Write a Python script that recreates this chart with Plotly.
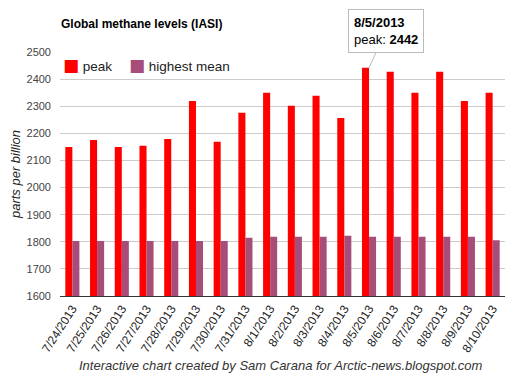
import plotly.graph_objects as go

dates = ["7/24/2013", "7/25/2013", "7/26/2013", "7/27/2013", "7/28/2013", "7/29/2013",
         "7/30/2013", "7/31/2013", "8/1/2013", "8/2/2013", "8/3/2013", "8/4/2013",
         "8/5/2013", "8/6/2013", "8/7/2013", "8/8/2013", "8/9/2013", "8/10/2013"]
peak = [2150, 2175, 2150, 2154, 2179, 2319, 2169, 2276, 2350, 2302, 2339, 2257,
        2442, 2427, 2350, 2427, 2319, 2350]
highest_mean = [1803, 1803, 1803, 1803, 1803, 1803, 1803, 1815, 1819, 1819, 1819, 1822,
                1819, 1819, 1819, 1819, 1819, 1806]
y_ticks = [1600, 1700, 1800, 1900, 2000, 2100, 2200, 2300, 2400, 2500]
series_names = ["peak", "highest mean"]
series_colors = ["#ff0000", "#a64d79"]

FONT = "Liberation Sans, Arial, sans-serif"
OFF = 8  # page body margin
W, H = 526, 380
# target plot area in screen pixels: x 60..505, y 52..296
L, T = 60 - OFF, 52 - OFF
R, B = W - (505 - OFF), H - (296 - OFF)
PW, PH = W - L - R, H - T - B

fig = go.Figure()
fig.add_trace(go.Bar(x=dates, y=peak, name=series_names[0], marker_color=series_colors[0],
                     marker_line_width=0))
fig.add_trace(go.Bar(x=dates, y=highest_mean, name=series_names[1], marker_color=series_colors[1],
                     marker_line_width=0))

fig.update_layout(
    width=W, height=H,
    margin=dict(l=L, r=R, t=T, b=B, autoexpand=False),
    paper_bgcolor="white", plot_bgcolor="white",
    font=dict(family=FONT, color="#222"),
    barmode="group", bargap=0.43, bargroupgap=0.0,
    showlegend=False,
    title=dict(text="<b>Global methane levels (IASI)</b>", x=(61 - OFF) / W, xanchor="left",
               y=1 - (24 - OFF) / H, yanchor="middle", font=dict(size=12, color="#000"),
               automargin=False),
    yaxis=dict(range=[1600, 2500], tickvals=y_ticks, showgrid=True, gridcolor="#cccccc",
               gridwidth=1, zeroline=False, showline=False, ticks="", automargin=False,
               tickfont=dict(size=11, color="#444"), ticklabelstandoff=8,
               title=dict(text="<i>parts per billion</i>", font=dict(size=13, color="#222"),
                          standoff=12)),
    xaxis=dict(tickangle=-57, tickfont=dict(size=12, color="#222"), showline=True,
               linecolor="#333", linewidth=1, ticks="", showgrid=False, automargin=False),
)

# legend (custom, compact like the original): coloured square glyph + label
legend_x = [61, 127]
for name, color, lx in zip(series_names, series_colors, legend_x):
    fig.add_annotation(
        text='<span style="font-family:DejaVu Sans;font-size:17px;color:' + color + '">■</span> ' + name,
        xref="paper", yref="paper", x=(lx - 60) / PW, y=(296 - 65) / PH,
        xanchor="left", yanchor="middle", showarrow=False,
        font=dict(size=13.5, color="#222"))

fig.add_annotation(text="<i>Interactive chart created by Sam Carana for Arctic-news.blogspot.com</i>",
                   xref="paper", yref="paper", x=(281 - 60) / PW, y=-(365 - 296) / PH,
                   xanchor="center", yanchor="middle", showarrow=False,
                   font=dict(size=13, color="#333"))

# tooltip callout at the 8/5/2013 peak
idx = 12
fig.add_annotation(x=dates[idx], y=peak[idx], xref="x", yref="y",
                   text="<b>" + dates[idx] + "</b><br>peak: <b>" + str(peak[idx]) + "</b>",
                   showarrow=True, arrowhead=0, arrowwidth=1, arrowcolor="#bbbbbb",
                   ax=17, ay=-37, xanchor="center", yanchor="middle", align="left",
                   bgcolor="white", bordercolor="#bbbbbb", borderwidth=1, borderpad=5,
                   font=dict(size=13, color="#000"))

fig.write_html("out.html")
